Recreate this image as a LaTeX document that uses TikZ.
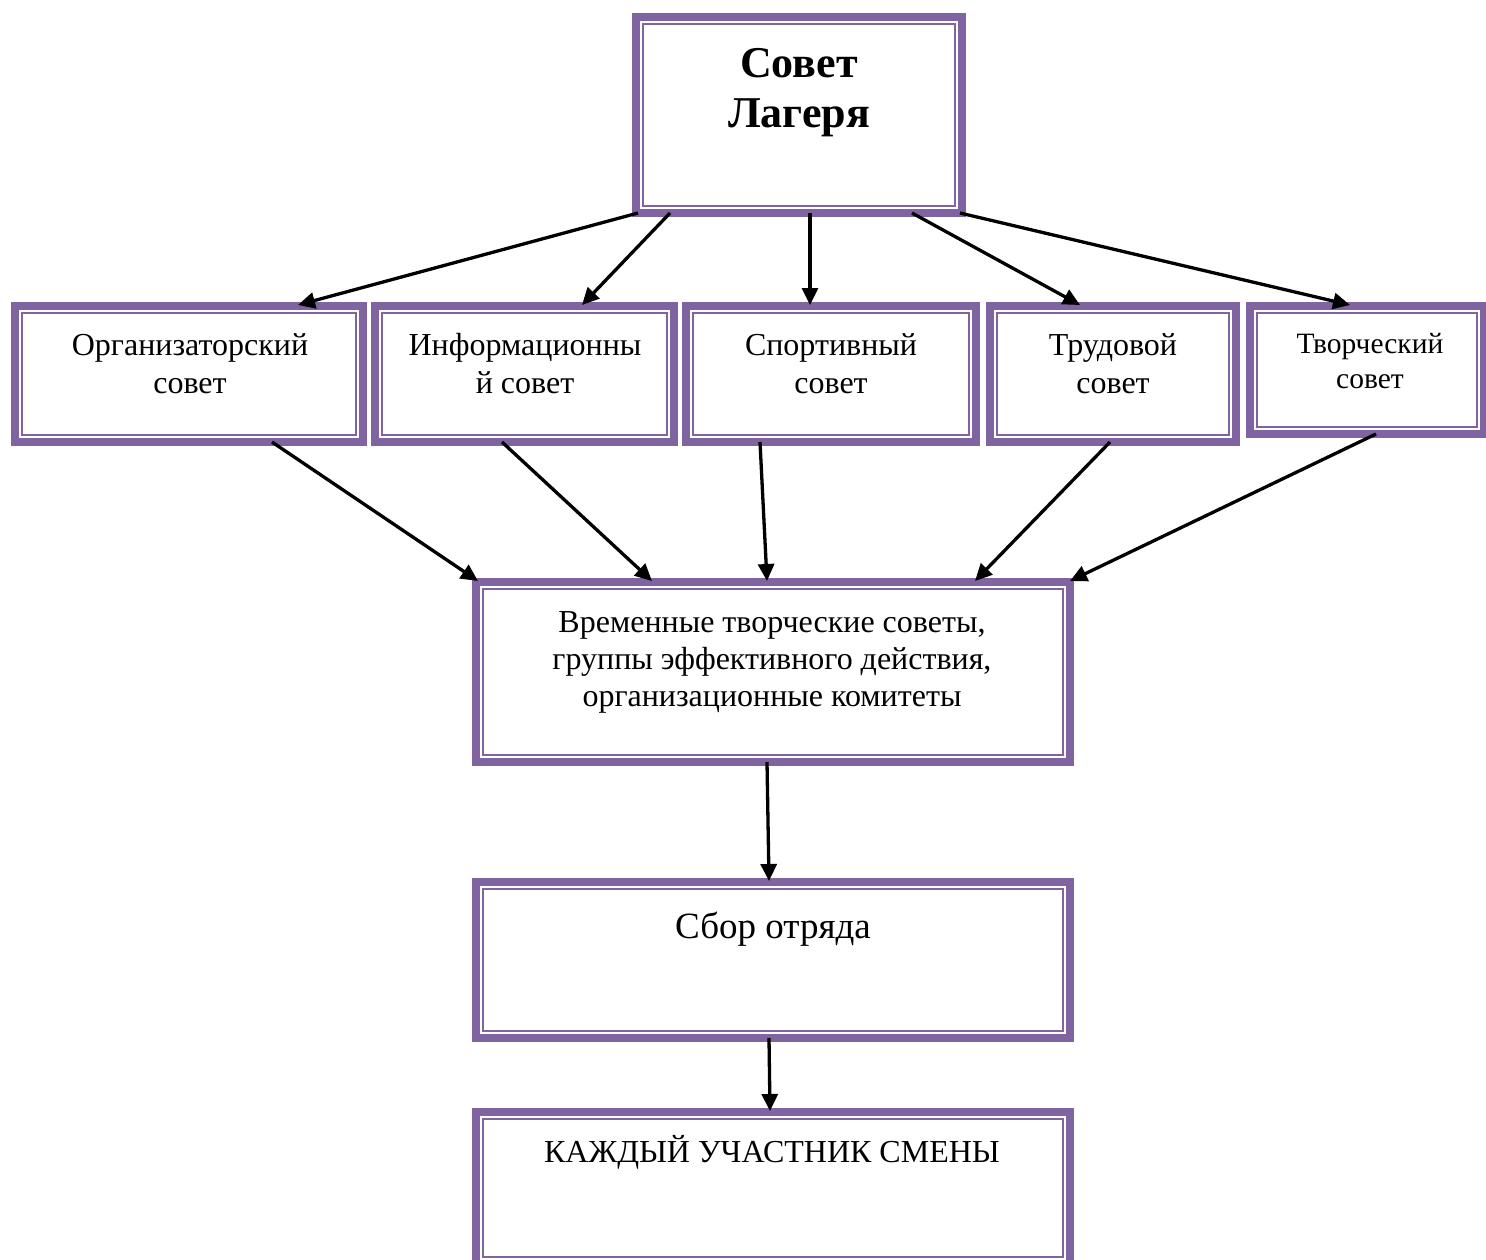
\documentclass[tikz,border=0pt]{standalone}
\usepackage{fontspec}
\setmainfont{Liberation Serif}
\usetikzlibrary{arrows.meta}
\definecolor{vio}{RGB}{128,100,162}
\tikzset{
  box/.style={draw=vio, line width=8pt, inner sep=0pt, fill=white,
    path picture={\draw[vio, line width=2pt]
      ([shift={(7pt,7pt)}]path picture bounding box.south west) rectangle
      ([shift={(-7pt,-7pt)}]path picture bounding box.north east);}},
  txt/.style={align=center, inner sep=0pt},
  arr/.style={line width=3.3pt, -{Triangle[length=17pt,width=16pt]}},
}
\begin{document}
\begin{tikzpicture}[x=1pt,y=-1pt]
\useasboundingbox (0,0) rectangle (1486,1259);
% boxes
\node[box, minimum width=326pt, minimum height=196pt] (top) at (799,115) {};
\node[box, minimum width=348pt, minimum height=136pt] (org) at (189,374) {};
\node[box, minimum width=299pt, minimum height=136pt] (info) at (524.5,374) {};
\node[box, minimum width=290pt, minimum height=136pt] (sport) at (831,374) {};
\node[box, minimum width=246pt, minimum height=136pt] (trud) at (1113,374) {};
\node[box, minimum width=234pt, minimum height=128pt] (tvor) at (1367,370) {};
\node[box, minimum width=594pt, minimum height=180pt] (mid) at (773,672) {};
\node[box, minimum width=594pt, minimum height=156pt] (sbor) at (773,960) {};
\node[box, minimum width=594pt, minimum height=152pt] (kazh) at (773,1188) {};
% texts
\node[txt, font=\fontsize{44}{50}\selectfont\bfseries] (topt) at (799,93) {Совет\\Лагеря};
\node[txt, font=\fontsize{32}{38}\selectfont] (orgt) at (190,364) {Организаторский\\совет};
\node[txt, font=\fontsize{32}{38}\selectfont] (infot) at (525,364) {Информационны\\й совет};
\node[txt, font=\fontsize{32}{38}\selectfont] (sportt) at (831,364) {Спортивный\\совет};
\node[txt, font=\fontsize{32}{38}\selectfont] (trudt) at (1113,364) {Трудовой\\совет};
\node[txt, font=\fontsize{29.5}{35}\selectfont] (tvort) at (1370,361) {Творческий\\совет};
\node[txt, font=\fontsize{32}{37}\selectfont] (midt) at (772,662) {Временные творческие советы,\\группы эффективного действия,\\организационные комитеты};
\node[txt, font=\fontsize{37}{44}\selectfont] (sbort) at (773,929) {Сбор отряда};
\node[txt, font=\fontsize{32}{38}\selectfont] (kazht) at (772,1152) {КАЖДЫЙ УЧАСТНИК СМЕНЫ};
% arrows from top
\draw[arr] ([xshift=-161pt,yshift=4pt]top.south) -- ([xshift=109pt,yshift=-3pt]org.north);
\draw[arr] ([xshift=-129pt,yshift=4pt]top.south) -- ([xshift=57.5pt,yshift=-3pt]info.north);
\draw[arr] ([xshift=11pt,yshift=4pt]top.south) -- ([xshift=-21pt,yshift=-3pt]sport.north);
\draw[arr] ([xshift=113pt,yshift=4pt]top.south) -- ([xshift=-33pt,yshift=-3pt]trud.north);
\draw[arr] ([xshift=161pt,yshift=4pt]top.south) -- ([xshift=-17pt,yshift=-3pt]tvor.north);
% arrows to middle
\draw[arr] ([xshift=83pt,yshift=4pt]org.south) -- ([xshift=-295pt,yshift=-3pt]mid.north);
\draw[arr] ([xshift=-22.5pt,yshift=4pt]info.south) -- ([xshift=-121pt,yshift=-3pt]mid.north);
\draw[arr] ([xshift=-71pt,yshift=4pt]sport.south) -- ([xshift=-6pt,yshift=-3pt]mid.north);
\draw[arr] ([xshift=-3pt,yshift=4pt]trud.south) -- ([xshift=202pt,yshift=-3pt]mid.north);
\draw[arr] ([xshift=9pt,yshift=4pt]tvor.south) -- ([xshift=297pt,yshift=-3pt]mid.north);
% vertical chain
\draw[arr] ([xshift=-6pt,yshift=4pt]mid.south) -- ([xshift=-4pt,yshift=-3pt]sbor.north);
\draw[arr] ([xshift=-4pt,yshift=4pt]sbor.south) -- ([xshift=-3pt,yshift=-3pt]kazh.north);
\end{tikzpicture}
\end{document}
